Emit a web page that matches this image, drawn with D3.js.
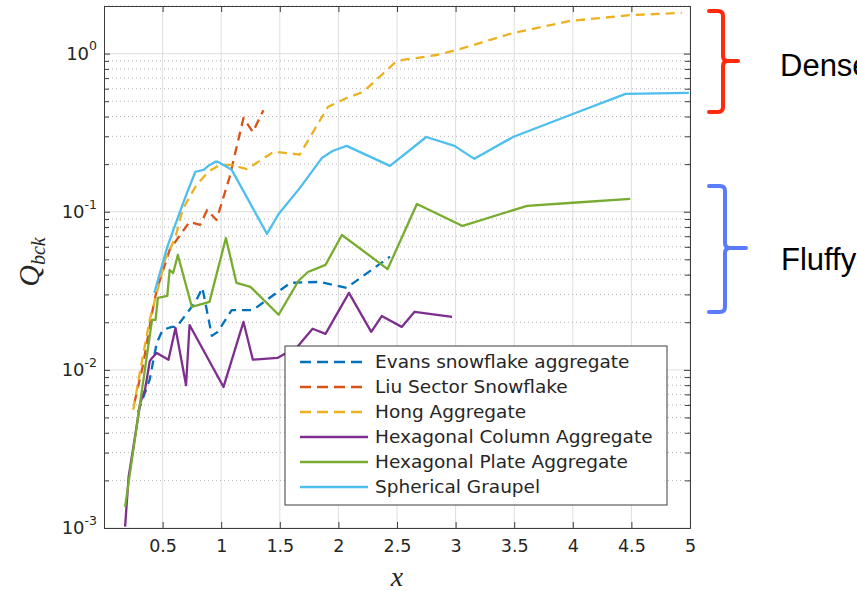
<!DOCTYPE html>
<html>
<head>
<meta charset="utf-8">
<script src="https://cdn.jsdelivr.net/npm/d3@7"></script>
<style>
  body { margin: 0; background: #fff; }
  svg { display: block; font-family: "DejaVu Sans", sans-serif; }
</style>
</head>
<body>
<svg id="chart" width="857" height="591"></svg>
<script>
// values
const xTicks = [0.5, 1, 1.5, 2, 2.5, 3, 3.5, 4, 4.5, 5];
const yMajor = [1e-3, 1e-2, 1e-1, 1];
const yExp = ["-3", "-2", "-1", "0"];

const evansX = [0.29, 0.39, 0.45, 0.50, 0.58, 0.62, 0.78, 0.84, 0.92, 0.97, 1.09, 1.27, 1.59, 1.84, 2.07, 2.44];
const evansY = [0.0054, 0.0087, 0.0148, 0.0179, 0.0187, 0.0187, 0.0269, 0.033, 0.0164, 0.0174, 0.0239, 0.0239, 0.0355, 0.036, 0.033, 0.052];

const liuX = [0.26, 0.33, 0.41, 0.45, 0.56, 0.65, 0.73, 0.82, 0.88, 0.96, 1.07, 1.19, 1.27, 1.36];
const liuY = [0.0062, 0.0105, 0.0229, 0.032, 0.0574, 0.0713, 0.0863, 0.0826, 0.1026, 0.0887, 0.164, 0.392, 0.319, 0.439];

const hongX = [0.25, 0.31, 0.39, 0.44, 0.48, 0.52, 0.61, 0.67, 0.73, 0.79, 0.89, 0.99, 1.08, 1.22, 1.45, 1.67, 1.91, 2.07, 2.21, 2.48, 2.55, 2.84, 3.01, 3.49, 3.98, 4.49, 4.93];
const hongY = [0.0056, 0.010, 0.0207, 0.0285, 0.037, 0.0495, 0.0693, 0.1026, 0.124, 0.148, 0.179, 0.198, 0.198, 0.186, 0.24, 0.23, 0.459, 0.524, 0.571, 0.873, 0.912, 0.98, 1.054, 1.35, 1.61, 1.75, 1.81];

const columnX = [0.18, 0.21, 0.27, 0.31, 0.35, 0.39, 0.41, 0.45, 0.55, 0.61, 0.70, 0.73, 1.02, 1.19, 1.27, 1.48, 1.65, 1.78, 1.89, 2.09, 2.28, 2.37, 2.54, 2.65, 2.97];
const columnY = [0.00102, 0.0021, 0.0040, 0.0062, 0.0075, 0.0113, 0.0119, 0.0128, 0.0116, 0.0184, 0.0080, 0.0192, 0.0078, 0.0201, 0.0116, 0.0119, 0.0140, 0.0182, 0.0169, 0.0307, 0.0174, 0.0219, 0.0187, 0.0233, 0.0216];

const plateX = [0.18, 0.41, 0.44, 0.46, 0.54, 0.56, 0.59, 0.63, 0.75, 0.90, 1.04, 1.13, 1.25, 1.49, 1.66, 1.74, 1.89, 2.03, 2.42, 2.67, 3.06, 3.61, 4.00, 4.49];
const plateY = [0.00136, 0.0207, 0.0207, 0.0285, 0.0294, 0.0428, 0.041, 0.0533, 0.025, 0.0269, 0.0682, 0.0355, 0.0335, 0.0223, 0.0366, 0.0416, 0.0461, 0.0713, 0.0434, 0.112, 0.0813, 0.109, 0.114, 0.1205];

const graupelX = [0.43, 0.46, 0.54, 0.62, 0.71, 0.78, 0.85, 0.89, 0.95, 0.97, 1.05, 1.09, 1.39, 1.49, 1.67, 1.86, 1.95, 2.07, 2.44, 2.75, 2.99, 3.16, 3.49, 4.00, 4.45, 4.99];
const graupelY = [0.0307, 0.037, 0.060, 0.0875, 0.133, 0.179, 0.184, 0.195, 0.207, 0.207, 0.192, 0.184, 0.0725, 0.0968, 0.141, 0.219, 0.242, 0.261, 0.195, 0.297, 0.261, 0.216, 0.297, 0.415, 0.556, 0.564];

const series = [
  { name: "Evans snowflake aggregate", xs: evansX, ys: evansY, color: "#0072BD", dash: true },
  { name: "Liu Sector Snowflake", xs: liuX, ys: liuY, color: "#D95319", dash: true },
  { name: "Hong Aggregate", xs: hongX, ys: hongY, color: "#EDB120", dash: true },
  { name: "Hexagonal Column Aggregate", xs: columnX, ys: columnY, color: "#7E2F8E", dash: false },
  { name: "Hexagonal Plate Aggregate", xs: plateX, ys: plateY, color: "#77AC30", dash: false },
  { name: "Spherical Graupel", xs: graupelX, ys: graupelY, color: "#4DBEEE", dash: false }
];

const svg = d3.select("#chart");
const plotLeft = 104, plotRight = 690, plotTop = 6, plotBottom = 528;
const axisColor = "#3c3c3c";

const x = d3.scaleLinear().domain([0, 5]).range([plotLeft, plotRight]);
const y = d3.scaleLog().domain([1e-3, 2]).range([plotBottom, plotTop]);
const yMinor = y.ticks().filter((t) => !yMajor.some((m) => Math.abs(t / m - 1) < 1e-6));

// grid
const grid = svg.append("g");
grid.selectAll("line.xg").data(xTicks).join("line")
  .attr("x1", (d) => x(d)).attr("x2", (d) => x(d))
  .attr("y1", plotTop).attr("y2", plotBottom)
  .attr("stroke", "#dedede").attr("stroke-width", 1);
grid.selectAll("line.ym").data(yMinor).join("line")
  .attr("x1", plotLeft).attr("x2", plotRight)
  .attr("y1", (d) => y(d)).attr("y2", (d) => y(d))
  .attr("stroke", "#b4b4b4").attr("stroke-width", 1)
  .attr("stroke-dasharray", "1,3");
grid.selectAll("line.yg").data(yMajor).join("line")
  .attr("x1", plotLeft).attr("x2", plotRight)
  .attr("y1", (d) => y(d)).attr("y2", (d) => y(d))
  .attr("stroke", "#dedede").attr("stroke-width", 1);

// lines
svg.append("clipPath").attr("id", "plot-clip")
  .append("rect").attr("x", plotLeft).attr("y", plotTop)
  .attr("width", plotRight - plotLeft).attr("height", plotBottom - plotTop);

const line = d3.line().x((d) => x(d[0])).y((d) => y(d[1]));

svg.append("g").attr("clip-path", "url(#plot-clip)")
  .selectAll("path").data(series).join("path")
  .attr("d", (s) => line(s.xs.map((v, i) => [v, s.ys[i]])))
  .attr("fill", "none")
  .attr("stroke", (s) => s.color)
  .attr("stroke-width", 2.3)
  .attr("stroke-linejoin", "round")
  .attr("stroke-dasharray", (s) => (s.dash ? "9,6" : null));

// axes (ticks point inward)
function styleAxis(g) {
  g.select(".domain").attr("stroke", axisColor).attr("stroke-width", 1);
  g.selectAll(".tick line").attr("stroke", axisColor).attr("stroke-width", 1);
  g.selectAll(".tick text").attr("fill", "#262626");
}

svg.append("g").attr("transform", `translate(0,${plotBottom})`)
  .call(d3.axisBottom(x).tickValues(xTicks).tickSizeInner(-6).tickSizeOuter(0).tickPadding(12).tickFormat(d3.format("")))
  .call((g) => g.attr("font-size", 17.5).attr("font-family", "DejaVu Sans"))
  .call(styleAxis);

svg.append("g").attr("transform", `translate(0,${plotTop})`)
  .call(d3.axisTop(x).tickValues(xTicks).tickSizeInner(-6).tickSizeOuter(0).tickFormat(""))
  .call(styleAxis);

const yLeft = svg.append("g").attr("transform", `translate(${plotLeft},0)`)
  .call(d3.axisLeft(y).tickValues(yMajor).tickSizeInner(-6).tickSizeOuter(0).tickPadding(7).tickFormat((d, i) => i))
  .call((g) => g.attr("font-size", 18).attr("font-family", "DejaVu Sans"))
  .call(styleAxis);

yLeft.selectAll(".tick text").each(function () {
  const t = d3.select(this);
  const i = +t.text();
  t.text(null);
  t.append("tspan").text("10");
  t.append("tspan").attr("font-size", 12.5).attr("dy", "-0.75em").text(yExp[i]);
});

svg.append("g").attr("transform", `translate(${plotLeft},0)`)
  .call(d3.axisLeft(y).tickValues(yMinor).tickSizeInner(-5).tickSizeOuter(0).tickFormat(""))
  .call(styleAxis);

svg.append("g").attr("transform", `translate(${plotRight},0)`)
  .call(d3.axisRight(y).tickValues(yMajor).tickSizeInner(-6).tickSizeOuter(0).tickFormat(""))
  .call(styleAxis);

svg.append("g").attr("transform", `translate(${plotRight},0)`)
  .call(d3.axisRight(y).tickValues(yMinor).tickSizeInner(-5).tickSizeOuter(0).tickFormat(""))
  .call(styleAxis);

// axis labels
svg.append("text")
  .attr("x", (plotLeft + plotRight) / 2).attr("y", 586)
  .attr("text-anchor", "middle")
  .attr("font-family", "Liberation Serif, serif").attr("font-style", "italic")
  .attr("font-size", 28).attr("fill", "#262626")
  .text("x");

const yLabel = svg.append("text")
  .attr("transform", "translate(39,262) rotate(-90)")
  .attr("text-anchor", "middle")
  .attr("font-family", "Liberation Serif, serif").attr("font-style", "italic")
  .attr("fill", "#262626");
yLabel.append("tspan").attr("font-size", 30).text("Q");
yLabel.append("tspan").attr("font-size", 20).attr("dy", "0.3em").text("bck");

// legend
const legend = svg.append("g").attr("transform", "translate(285,346)");
legend.append("rect")
  .attr("width", 382).attr("height", 159)
  .attr("fill", "#fff").attr("stroke", axisColor).attr("stroke-width", 1);

const rows = legend.selectAll("g.row").data(series).join("g")
  .attr("transform", (d, i) => `translate(0,${16 + i * 25})`);
rows.append("line")
  .attr("x1", 15).attr("x2", 83)
  .attr("stroke", (s) => s.color).attr("stroke-width", 2.3)
  .attr("stroke-dasharray", (s) => (s.dash ? "11,6" : null));
rows.append("text")
  .attr("x", 90).attr("dy", "0.35em")
  .attr("font-size", 18.5).attr("fill", "#262626")
  .text((s) => s.name);

// annotation braces
function brace(xs, xv, xt, y0, ym, y1) {
  const r = 5;
  return `M${xs},${y0} L${xv - r},${y0} Q${xv},${y0} ${xv},${y0 + r} ` +
    `L${xv},${ym - r} Q${xv},${ym} ${xv + r},${ym} L${xt},${ym} ` +
    `M${xv + r},${ym} Q${xv},${ym} ${xv},${ym + r} ` +
    `L${xv},${y1 - r} Q${xv},${y1} ${xv - r},${y1} L${xs},${y1}`;
}

const notes = svg.append("g").attr("fill", "none").attr("stroke-width", 4).attr("stroke-linecap", "round");
notes.append("path").attr("d", brace(709, 723, 738, 11, 61, 112)).attr("stroke", "#ff2a0c");
notes.append("path").attr("d", brace(709, 725, 746, 186, 248, 312)).attr("stroke", "#5b7cfa");

svg.append("text").attr("x", 780).attr("y", 76)
  .attr("font-family", "Liberation Sans, Arial, sans-serif").attr("font-size", 31).attr("fill", "#000")
  .text("Dense");
svg.append("text").attr("x", 781).attr("y", 270)
  .attr("font-family", "Liberation Sans, Arial, sans-serif").attr("font-size", 31).attr("fill", "#000")
  .text("Fluffy");
</script>
</body>
</html>
